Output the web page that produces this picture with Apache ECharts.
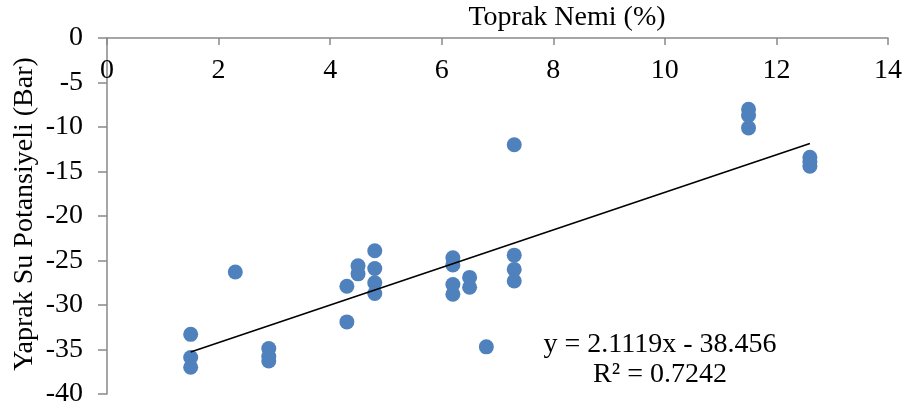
<!DOCTYPE html>
<html>
<head>
<meta charset="utf-8">
<script src="https://cdn.jsdelivr.net/npm/echarts@6/dist/echarts.min.js"></script>
<style>html,body{margin:0;padding:0;background:#fff}#c{width:906px;height:408px}</style>
</head>
<body>
<div id="c"></div>
<script>
var soilMoisture = [1.5,1.5,1.5,2.3,2.9,2.9,2.9,4.3,4.3,4.5,4.5,4.8,4.8,4.8,4.8,6.2,6.2,6.2,6.2,6.5,6.5,6.8,7.3,7.3,7.3,7.3,11.5,11.5,11.5,12.6,12.6,12.6];
var leafPotential = [-33.3,-35.9,-37.0,-26.3,-34.9,-35.8,-36.3,-27.9,-31.9,-25.6,-26.5,-23.9,-25.9,-27.5,-28.7,-24.7,-25.5,-27.7,-28.8,-26.9,-28.0,-34.7,-12.0,-24.4,-26.0,-27.3,-8.0,-8.7,-10.1,-13.4,-13.9,-14.4];
var trendX = [1.5, 12.6];
var trendY = [-35.29, -11.85];
var xTicks = [0,2,4,6,8,10,12,14];
var yTicks = [0,-5,-10,-15,-20,-25,-30,-35,-40];
var xTitle = 'Toprak Nemi (%)';
var yTitle = 'Yaprak Su Potansiyeli (Bar)';
var eqText = 'y = 2.1119x - 38.456';
var r2Text = 'R² = 0.7242';

var FONT = '"Liberation Serif", "Times New Roman", serif';
var chart = echarts.init(document.getElementById('c'), null, {renderer:'canvas'});
var pts = soilMoisture.map(function(x,i){return [x, leafPotential[i]];});
var trend = trendX.map(function(x,i){return [x, trendY[i]];});
chart.setOption({
  animation:false,
  grid:{left:107, top:38, right:18, bottom:12, containLabel:false},
  xAxis:{
    type:'value', position:'top', min:xTicks[0], max:xTicks[xTicks.length-1], interval:2,
    axisLine:{onZero:false, lineStyle:{color:'#898989', width:1.5}},
    axisTick:{inside:true, length:7, lineStyle:{color:'#898989', width:1.5}},
    axisLabel:{inside:true, margin:19, color:'#000', fontFamily:FONT, fontSize:28},
    splitLine:{show:false}
  },
  yAxis:{
    type:'value', min:yTicks[yTicks.length-1], max:yTicks[0], interval:5,
    axisLine:{show:true, onZero:false, lineStyle:{color:'#898989', width:1.5}},
    axisTick:{show:true, length:9, lineStyle:{color:'#898989', width:1.5}},
    axisLabel:{margin:24, color:'#000', fontFamily:FONT, fontSize:28},
    splitLine:{show:false}
  },
  series:[
    {type:'scatter', data:pts, symbol:'circle', symbolSize:15, itemStyle:{color:'#4F81BD', opacity:1}, z:3},
    {type:'line', data:trend, symbol:'none', lineStyle:{color:'#000', width:1.6}, z:4}
  ],
  graphic:[
    {type:'text', x:567, y:18, style:{text:xTitle, font:'28px '+FONT, fill:'#000', textAlign:'center', textVerticalAlign:'middle'}},
    {type:'text', x:25, y:214, rotation:Math.PI/2, style:{text:yTitle, font:'28px '+FONT, fill:'#000', textAlign:'center', textVerticalAlign:'middle'}},
    {type:'text', x:660, y:345, style:{text:eqText, font:'28px '+FONT, fill:'#000', textAlign:'center', textVerticalAlign:'middle'}},
    {type:'text', x:660, y:375, style:{text:r2Text, font:'28px '+FONT, fill:'#000', textAlign:'center', textVerticalAlign:'middle'}}
  ]
});
</script>
</body>
</html>
